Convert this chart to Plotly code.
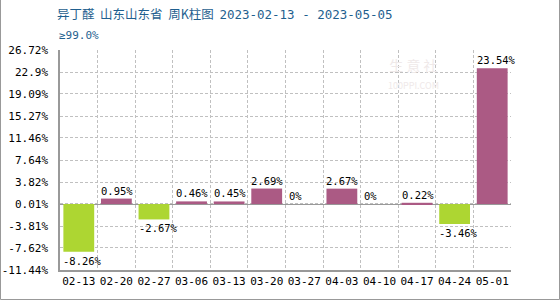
import plotly.graph_objects as go

categories = ["02-13", "02-20", "02-27", "03-06", "03-13", "03-20", "03-27", "04-03", "04-10", "04-17", "04-24", "05-01"]
values = [-8.26, 0.95, -2.67, 0.46, 0.45, 2.69, 0.0, 2.67, 0.0, 0.22, -3.46, 23.54]
value_labels = ["-8.26%", "0.95%", "-2.67%", "0.46%", "0.45%", "2.69%", "0%", "2.67%", "0%", "0.22%", "-3.46%", "23.54%"]
y_ticks = [-11.44, -7.62, -3.81, 0.01, 3.82, 7.64, 11.46, 15.27, 19.09, 22.9, 26.72]
y_tick_labels = ["-11.44%", "-7.62%", "-3.81%", "0.01%", "3.82%", "7.64%", "11.46%", "15.27%", "19.09%", "22.9%", "26.72%"]

W, H = 560, 300
L, R, T, B = 60, 49, 50, 30
pw, ph = W - L - R, H - T - B
bar_w = 0.82
mono = "DejaVu Sans Mono"
green, purple = "#ADD632", "#AB5A84"

n = len(categories)
xs = list(range(n))
colors = [green if v < 0 else purple for v in values]
x_lo, x_hi = -0.5, n - 0.5
y_lo, y_hi = y_ticks[0], y_ticks[-1]

fig = go.Figure(go.Bar(x=xs, y=values, marker=dict(color=colors, line=dict(width=0)), width=bar_w, hoverinfo="skip"))

# outer frame
fig.add_shape(type="rect", xref="paper", yref="paper",
              x0=-(L - 0.5) / pw, x1=(W - L - 0.5) / pw, y0=-(B - 0.5) / ph, y1=(H - B + 5) / ph,
              line=dict(color="#999999", width=1))

for i, (v, lab) in enumerate(zip(values, value_labels)):
    fig.add_annotation(x=i - bar_w / 2, y=v, xref="x", yref="y", text=lab, showarrow=False,
                       xanchor="left", yanchor="top" if v < 0 else "bottom",
                       yshift=-1 if v < 0 else 0, xshift=-2,
                       font=dict(family=mono, size=10.5, color="#000000"))
fig.add_annotation(x=0, y=1, xref="paper", yref="paper", xshift=-5, yshift=37,
                   text="异丁醛  山东山东省  周K柱图  <span style='font-family:DejaVu Sans Mono'>2023-02-13 - 2023-05-05</span>",
                   showarrow=False, xanchor="left", yanchor="middle",
                   font=dict(family="Noto Sans CJK SC", size=12.5, color="#1f5f8f"))
fig.add_annotation(x=0, y=1, xref="paper", yref="paper", xshift=-3, yshift=15, text="≥99.0%", showarrow=False,
                   xanchor="left", yanchor="middle", font=dict(family=mono, size=11, color="#1f5f8f"))
fig.add_annotation(x=8.9, y=22.6, xref="x", yref="y", text="生 意 社<br><span style='font-size:9px'>100PPI.COM</span>",
                   showarrow=False, font=dict(family="Noto Sans CJK SC", size=14, color="#efe9e9"))

grid_color = "#c0c0c0"
fig.update_layout(
    template="none",
    width=W, height=H, margin=dict(l=L, r=R, t=T, b=B, autoexpand=False),
    paper_bgcolor="white", plot_bgcolor="white",
    showlegend=False,
    xaxis=dict(range=[x_lo, x_hi], tickvals=xs, ticktext=categories, showgrid=False, zeroline=False,
               automargin=False, showline=True, linecolor="#999999", linewidth=1.5, mirror=False, ticks="",
               minor=dict(tickvals=[i + 0.5 for i in range(n)], showgrid=True, gridcolor=grid_color,
                          gridwidth=1, griddash="3px,2px", ticks=""),
               tickfont=dict(family=mono, size=11, color="#000000"), fixedrange=True),
    yaxis=dict(range=[y_lo, y_hi], tickvals=y_ticks, ticktext=y_tick_labels,
               showgrid=True, gridcolor=grid_color, gridwidth=1, griddash="3px,2px",
               automargin=False, zeroline=True, zerolinecolor="#999999", zerolinewidth=1,
               showline=True, linecolor="#999999", linewidth=1.5, ticks="",
               ticklabelstandoff=8, tickfont=dict(family=mono, size=11, color="#000000"), fixedrange=True),
)

fig.write_html("out.html")
